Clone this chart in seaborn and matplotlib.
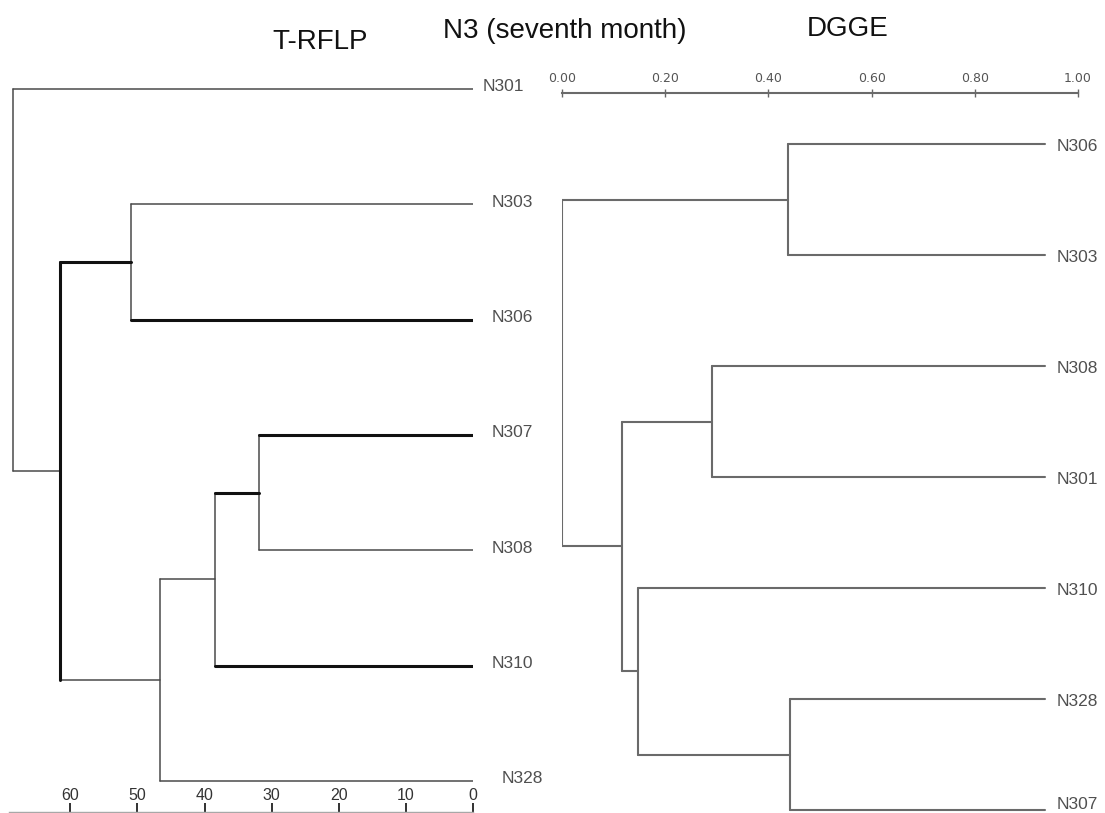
import matplotlib
matplotlib.use("Agg")
import matplotlib.pyplot as plt
import pandas as pd
import seaborn as sns

# ---- T-RFLP tree (distance scale, 0 at the leaves) ----
trflp_leaves = ["N301", "N303", "N306", "N307", "N308", "N310", "N328"]
trflp_nodes = ["E", "D", "C", "B", "A", "root"]
trflp_children = [("N307", "N308"), ("E", "N310"), ("D", "N328"),
                  ("N303", "N306"), ("B", "C"), ("N301", "A")]
trflp_heights = [31.9, 38.4, 46.6, 51.0, 61.5, 68.6]
trflp_ticks = [60, 50, 40, 30, 20, 10, 0]
trflp_tip = 0.0

# ---- DGGE tree (similarity scale 0..1) ----
dgge_leaves = ["N306", "N303", "N308", "N301", "N310", "N328", "N307"]
dgge_nodes = ["P", "Q", "R", "S", "T", "root"]
dgge_children = [("N306", "N303"), ("N308", "N301"), ("N328", "N307"),
                 ("N310", "R"), ("Q", "S"), ("P", "T")]
dgge_heights = [0.438, 0.291, 0.441, 0.147, 0.116, 0.0]
dgge_ticks = [0.0, 0.2, 0.4, 0.6, 0.8, 1.0]
dgge_tip = 0.936

# branches drawn heavier in the T-RFLP tree
bold_branches = {"B", "N306", "N307", "E", "N310"}
bold_stems = {"A"}


def tree_segments(leaves, nodes, children, heights, tip):
    """Return a long-form table of dendrogram segments (elbow style)."""
    pos = {leaf: (tip, float(i)) for i, leaf in enumerate(leaves)}
    rows = []
    seg = 0
    for name, kids, h in zip(nodes, children, heights):
        ys = [pos[k][1] for k in kids]
        w = "bold" if name in bold_stems else "thin"
        rows += [(seg, h, min(ys), w), (seg, h, max(ys), w)]
        seg += 1
        for k in kids:
            kx, ky = pos[k]
            w = "bold" if k in bold_branches else "thin"
            rows += [(seg, h, ky, w), (seg, kx, ky, w)]
            seg += 1
        pos[name] = (h, sum(ys) / len(ys))
    return pd.DataFrame(rows, columns=["seg", "x", "y", "weight"])


sns.set_theme(style="white")
plt.rcParams["font.family"] = ["Liberation Sans", "DejaVu Sans"]

W, H = 1105, 813
fig = plt.figure(figsize=(W / 100, H / 100), dpi=100)
fig.patch.set_facecolor("white")

# ---------------- left panel: T-RFLP ----------------
axL = fig.add_axes([0, 1 / H, 473 / W, 812 / H])
dfL = tree_segments(trflp_leaves, trflp_nodes, trflp_children, trflp_heights, trflp_tip)
sns.lineplot(data=dfL, x="x", y="y", units="seg", estimator=None, sort=False,
             hue="weight", palette={"thin": "#4a4a4a", "bold": "#111111"},
             size="weight", sizes={"thin": 1.1, "bold": 2.2},
             legend=False, ax=axL)
axL.set_xlim(70.49, 0)
axL.set_ylim(6.269, -0.772)
axL.set_xlabel("")
axL.set_ylabel("")
axL.set_yticks([])
axL.set_xticks(trflp_ticks)
axL.set_xticklabels([str(t) for t in trflp_ticks])
axL.tick_params(axis="x", direction="in", length=6.5, width=1.3, color="#222222",
                labelsize=11.5, labelcolor="#333333", pad=-17, bottom=True)
for s in ("top", "left", "right"):
    axL.spines[s].set_visible(False)
axL.spines["bottom"].set_color("#a8a8a8")
axL.spines["bottom"].set_linewidth(1.0)
axL.spines["bottom"].set_bounds(69.2, 0)
axL.patch.set_alpha(0)

label_pad_px = {"N301": 10, "N328": 29}
for i, name in enumerate(trflp_leaves):
    off = label_pad_px.get(name, 19) * 0.72
    axL.annotate(name, xy=(trflp_tip, i), xytext=(off, 1.5), textcoords="offset points",
                 ha="left", va="center", fontsize=12.5, color="#505050",
                 annotation_clip=False)

# ---------------- right panel: DGGE ----------------
axR = fig.add_axes([562 / W, 0, 516 / W, (H - 93) / H])
dfR = tree_segments(dgge_leaves, dgge_nodes, dgge_children, dgge_heights, dgge_tip)
sns.lineplot(data=dfR, x="x", y="y", units="seg", estimator=None, sort=False,
             color="#6a6a6a", linewidth=1.5, legend=False, ax=axR)
axR.set_xlim(0, 1)
axR.set_ylim(6.027, -0.4595)
axR.set_xlabel("")
axR.set_ylabel("")
axR.set_yticks([])
axR.xaxis.tick_top()
axR.set_xticks(dgge_ticks)
axR.set_xticklabels([f"{t:.2f}" for t in dgge_ticks],
                    fontfamily=["Liberation Sans Narrow", "DejaVu Sans"],
                    fontsize=9, color="#555555")
axR.tick_params(axis="x", direction="inout", length=6, width=1.0, color="#666666",
                pad=3, top=True, bottom=False)
for s in ("bottom", "left", "right"):
    axR.spines[s].set_visible(False)
axR.spines["top"].set_color("#6a6a6a")
axR.spines["top"].set_linewidth(1.5)
axR.patch.set_alpha(0)

# the last label sits against the lower edge, so it is lifted a little
label_rise_pt = {"N307": 4.0}
for i, name in enumerate(dgge_leaves):
    axR.annotate(name, xy=(dgge_tip, i), xytext=(12 * 0.72, label_rise_pt.get(name, -1.5)),
                 textcoords="offset points",
                 ha="left", va="center", fontsize=12.5, color="#505050",
                 annotation_clip=False)

# ---------------- titles ----------------
fig.text(320 / W, 1 - 42 / H, "T-RFLP", ha="center", va="center", fontsize=20, color="#111111")
fig.text(565 / W, 1 - 31 / H, "N3 (seventh month)", ha="center", va="center", fontsize=20,
         color="#111111")
fig.text(848 / W, 1 - 29 / H, "DGGE", ha="center", va="center", fontsize=20, color="#111111")

fig.savefig("out.png", dpi=100, facecolor="white")
